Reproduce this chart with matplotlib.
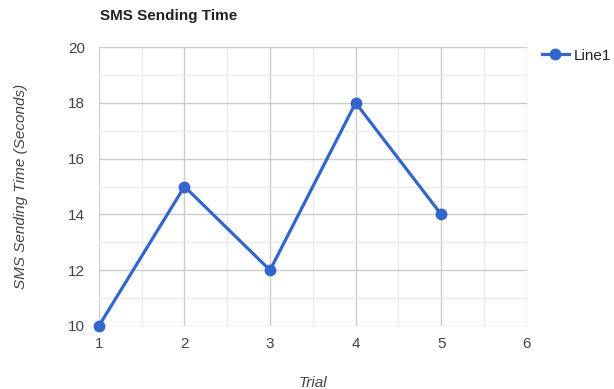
import matplotlib.pyplot as plt
from matplotlib.ticker import MultipleLocator
from matplotlib.lines import Line2D

trial = [1, 2, 3, 4, 5]
send_time = [10, 15, 12, 18, 14]

plt.rcParams['font.family'] = ['Liberation Sans', 'DejaVu Sans']

fig = plt.figure(figsize=(6.14, 3.89), dpi=100)
ax = fig.add_axes([0.161, 0.162, 0.697, 0.717])

blue = '#3366cc'
ax.plot(trial, send_time, color=blue, lw=2.3, marker='o', markersize=7.5, zorder=3, clip_on=False)

ax.set_xlim(1, 6)
ax.set_ylim(10, 20)
ax.xaxis.set_major_locator(MultipleLocator(1))
ax.xaxis.set_minor_locator(MultipleLocator(0.5))
ax.yaxis.set_major_locator(MultipleLocator(2))
ax.yaxis.set_minor_locator(MultipleLocator(1))
ax.grid(which='major', color='#cccccc', lw=1)
ax.grid(which='minor', color='#ebebeb', lw=1)
ax.set_axisbelow(True)
for s in ax.spines.values():
    s.set_visible(False)
ax.tick_params(which='both', length=0, labelsize=11, labelcolor='#444444')
ax.tick_params(axis='x', pad=8)
ax.tick_params(axis='y', pad=10)

ax.set_xlabel('Trial', style='italic', color='#444444', fontsize=11, labelpad=18)
ax.set_ylabel('SMS Sending Time (Seconds)', style='italic', color='#444444', fontsize=11, labelpad=29)

fig.text(0.163, 0.958, 'SMS Sending Time', fontsize=11, fontweight='bold', color='#222222', va='center')

handle = Line2D([], [], color=blue, lw=2.3, marker='o', markersize=7.5)
fig.legend([handle], ['Line1'], loc='center left', bbox_to_anchor=(0.882, 0.857),
           frameon=False, fontsize=11, handlelength=1.8, handletextpad=0.3,
           borderaxespad=0, borderpad=0, labelcolor='#222222')

fig.savefig('out.png', dpi=100)
